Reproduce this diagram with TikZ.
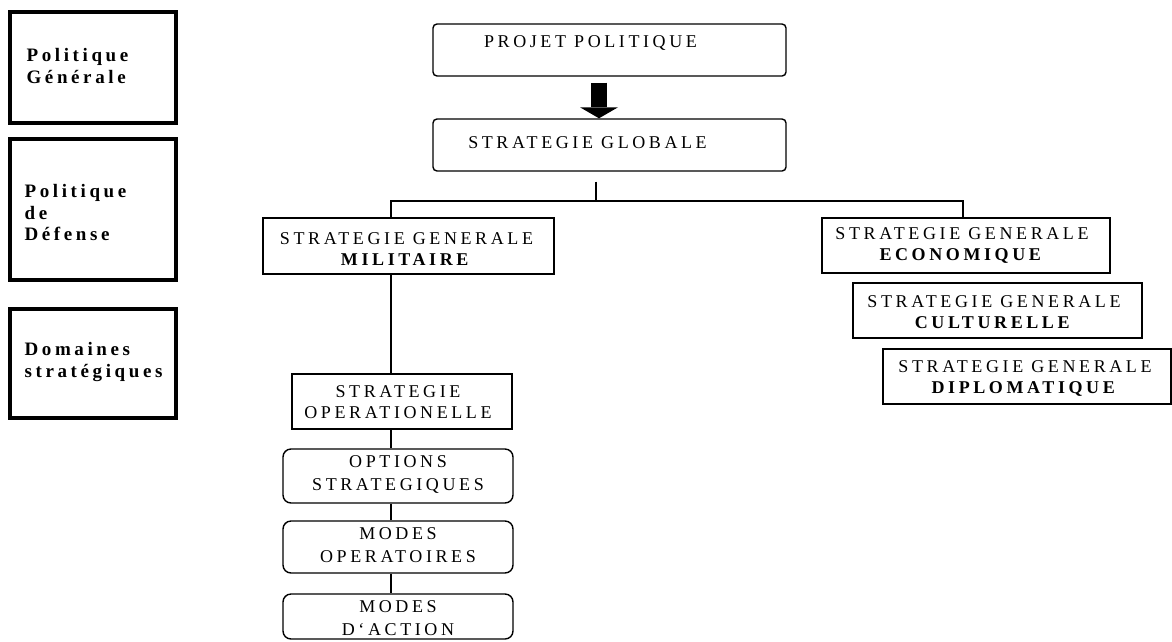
\documentclass[tikz,border=0pt]{standalone}
\usepackage{fontspec}
\setmainfont{Liberation Serif}
\newfontfamily\spfont[LetterSpace=20]{Liberation Serif}
\newfontfamily\lbfont[LetterSpace=19]{Liberation Serif}
\usetikzlibrary{arrows.meta,calc}
\begin{document}
\begin{tikzpicture}[x=1pt,y=-1pt,
  box/.style={draw, line width=1.4pt, inner sep=0pt},
  rbox/.style={box, rounded corners=4pt},
  obox/.style={box, rounded corners=8pt},
  lbox/.style={draw, line width=3.2pt, inner sep=0pt, minimum width=166pt},
  txt/.style={font=\spfont\fontsize{18}{21}\selectfont, align=center, inner sep=0pt},
  otxt/.style={font=\spfont\fontsize{18}{23}\selectfont, align=center, inner sep=0pt},
  lbl/.style={font=\lbfont\fontsize{19}{21.5}\selectfont\bfseries, align=left, inner sep=0pt},
  conn/.style={line width=1.3pt}
]
\useasboundingbox (0,0) rectangle (1172,641);

% left column
\node[lbox, minimum height=111pt, label={[lbl,anchor=west,xshift=18pt,yshift=1.5pt]west:{Politique\\Générale}}] (l1) at (93,67.5) {};
\node[lbox, minimum height=141pt, label={[lbl,anchor=west,xshift=16pt,yshift=-3pt]west:{Politique\\de\\Défense}}] (l2) at (93,209.5) {};
\node[lbox, minimum height=109pt, label={[lbl,anchor=west,xshift=16pt,yshift=1.5pt]west:{Domaines\\stratégiques}}] (l3) at (93,363.5) {};

% top boxes
\node[rbox, minimum width=353pt, minimum height=52pt, label={[txt,xshift=-19pt,yshift=7pt]center:PROJET POLITIQUE}] (pp) at (609.5,50) {};
\node[rbox, minimum width=353pt, minimum height=52pt, label={[txt,xshift=-22pt,yshift=2pt]center:STRATEGIE GLOBALE}] (sg) at (609.5,145) {};

% general strategies
\node[box, minimum width=291pt, minimum height=56pt, label={[txt,xshift=-2pt,yshift=-3pt]center:{STRATEGIE GENERALE\\\textbf{MILITAIRE}}}] (mil) at (408.5,246) {};
\node[box, minimum width=288pt, minimum height=55pt, label={[txt,xshift=-4pt]center:{STRATEGIE GENERALE\\\textbf{ECONOMIQUE}}}] (eco) at (966,245.5) {};
\node[box, minimum width=289pt, minimum height=55pt, label={[txt,xshift=-3.5pt,yshift=-1.5pt]center:{STRATEGIE GENERALE\\\textbf{CULTURELLE}}}] (cul) at (997.5,310.5) {};
\node[box, minimum width=288pt, minimum height=55pt, label={[txt,xshift=-2pt,yshift=-2pt]center:{STRATEGIE GENERALE\\\textbf{DIPLOMATIQUE}}}] (dip) at (1027,376.5) {};

% military chain
\node[box, minimum width=220pt, minimum height=55pt, label={[txt,xshift=-4pt,yshift=-1pt]center:{STRATEGIE\\OPERATIONELLE}}] (so) at (402,401.5) {};
\node[obox, minimum width=230pt, minimum height=54pt, label={[otxt,yshift=1.5pt]center:{OPTIONS\\STRATEGIQUES}}] (opt) at (398,476) {};
\node[obox, minimum width=230pt, minimum height=52pt, label={[otxt,yshift=2pt]center:{MODES\\OPERATOIRES}}] (mo) at (398,547) {};
\node[obox, minimum width=230pt, minimum height=45pt, label={[otxt,yshift=-1.5pt]center:{MODES\\D‘ACTION}}] (ma) at (398,616.5) {};

% connectors
\coordinate (bar) at (596,201);
\coordinate (sp) at (391,0);
\coordinate (ec) at (963,0);
\draw[line width=16pt, -{Triangle[width=38pt,length=11pt,line width=0pt]}] ($(pp.south)+(-10.5,6)$) -- ($(sg.north)+(-10.5,0)$);
\draw[conn] ($(sg.south -| bar)+(0,10)$) -- (bar);
\draw[conn] (mil.north -| sp) -- (bar -| sp) -- (bar -| ec) -- (eco.north -| ec);
\draw[conn] (mil.south -| sp) -- (so.north -| sp);
\draw[conn] (so.south -| sp) -- (opt.north -| sp);
\draw[conn] (opt.south -| sp) -- (mo.north -| sp);
\draw[conn] (mo.south -| sp) -- (ma.north -| sp);
\end{tikzpicture}
\end{document}
